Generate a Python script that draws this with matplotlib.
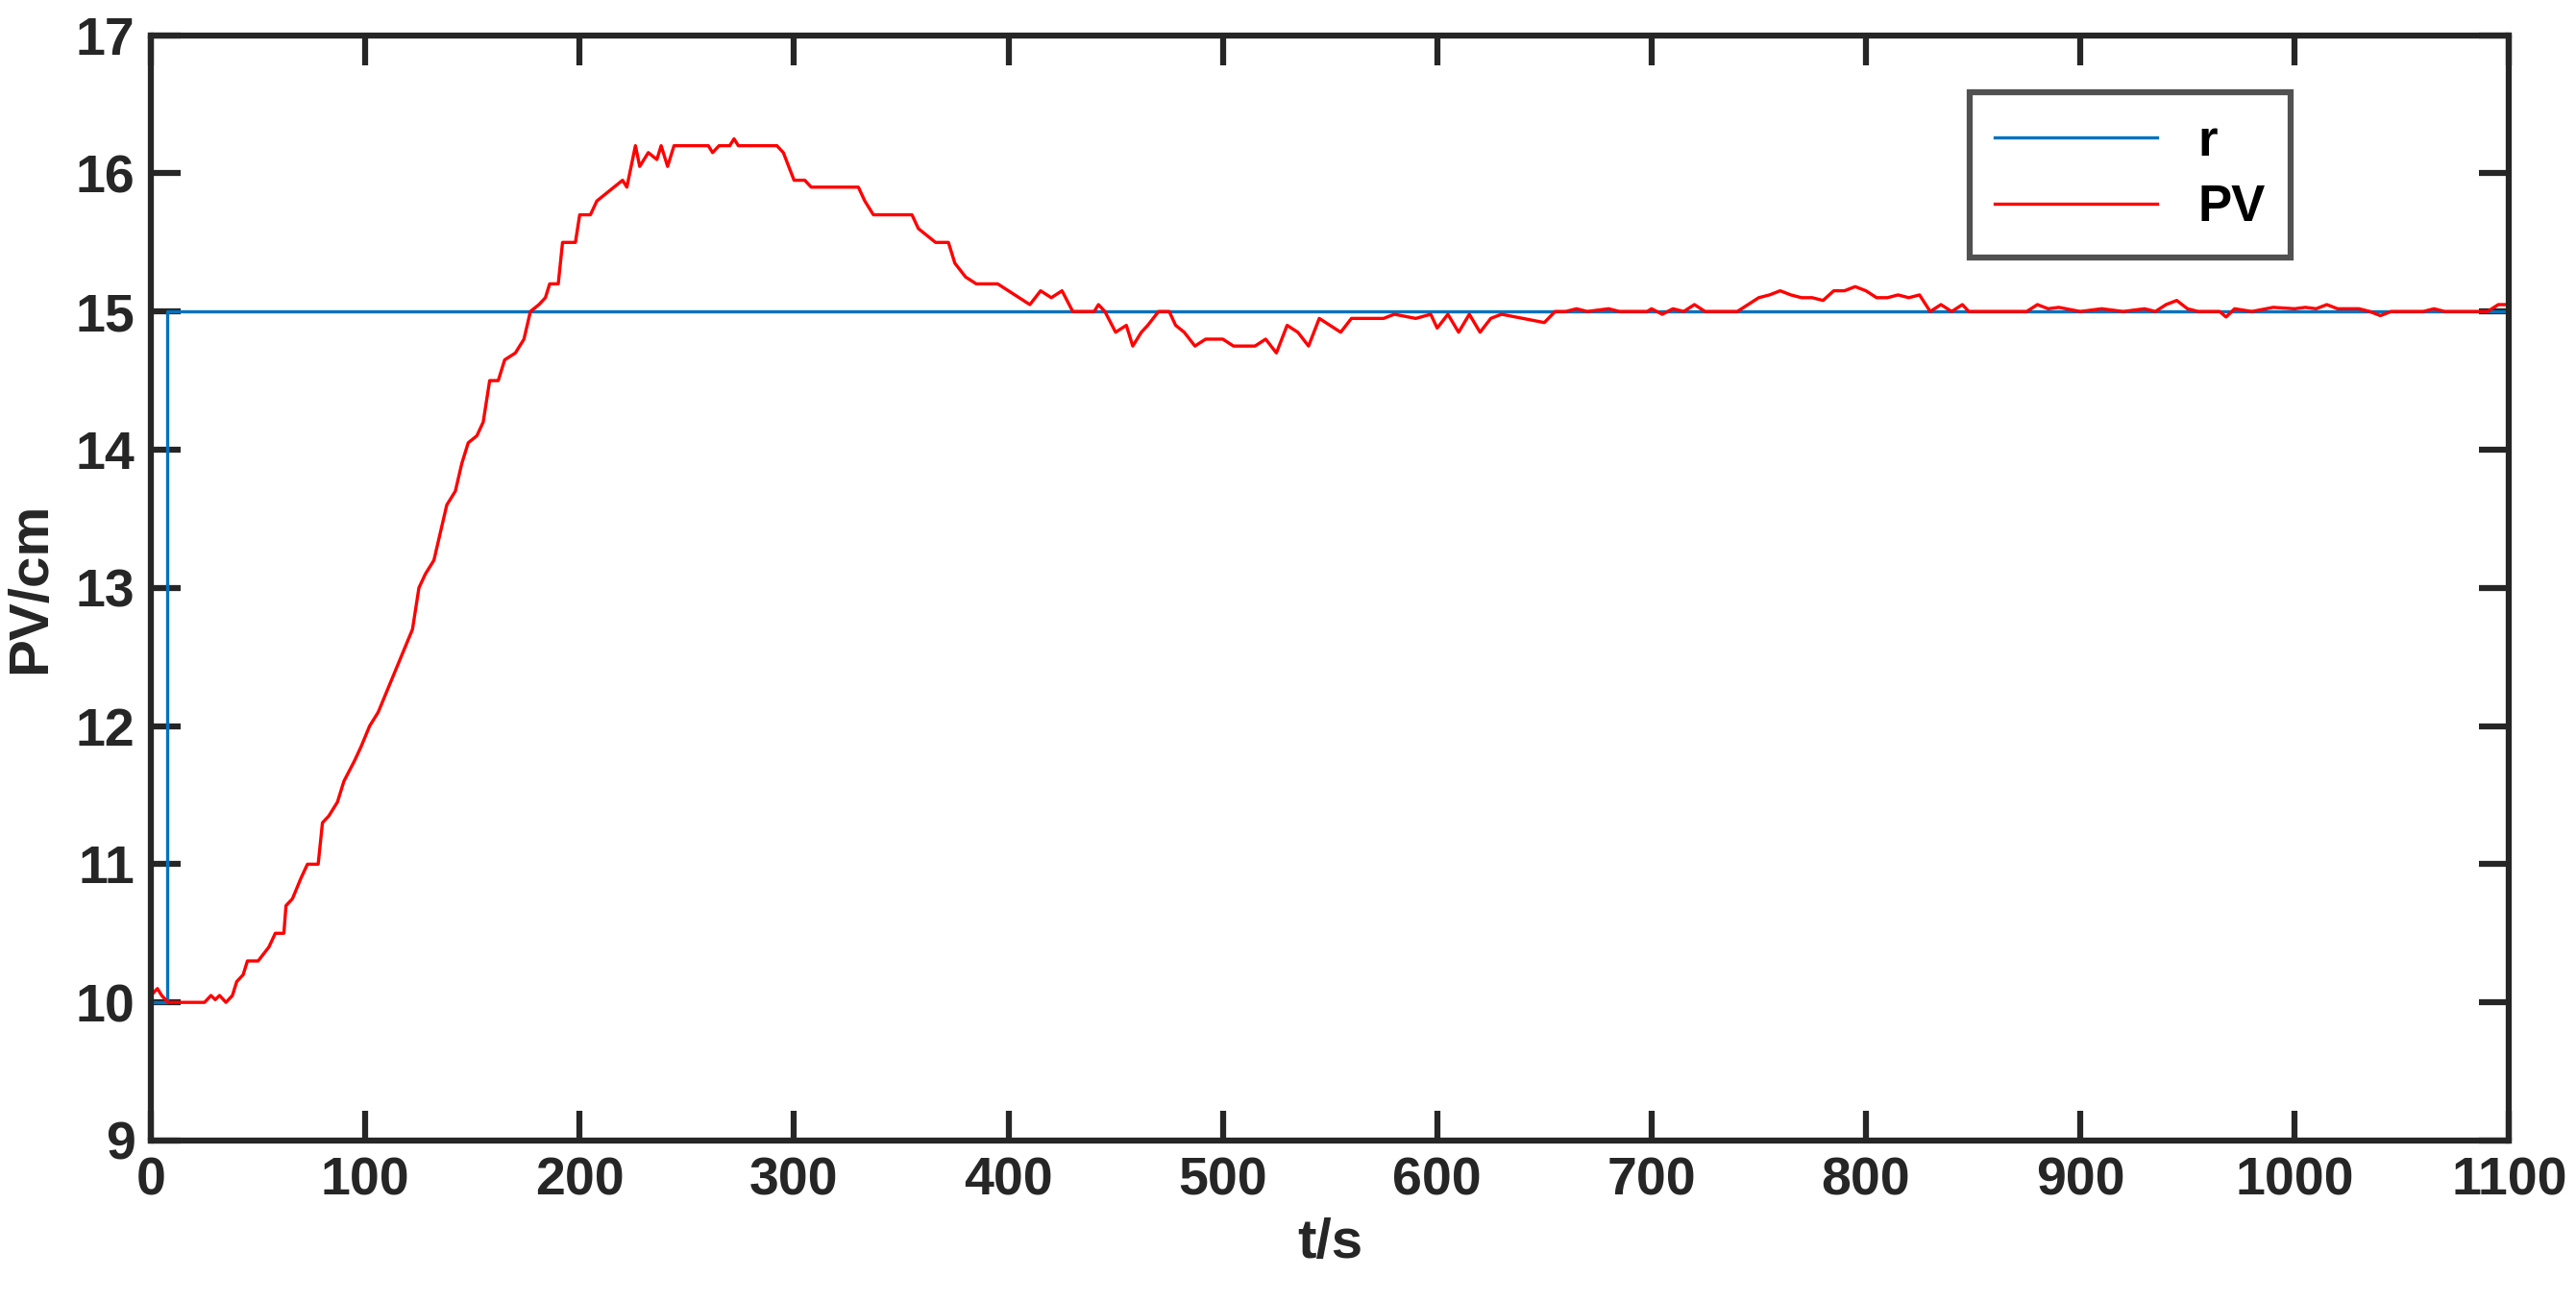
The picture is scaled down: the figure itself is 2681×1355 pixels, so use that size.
import matplotlib
matplotlib.use("Agg")
import matplotlib.pyplot as plt

r_t = [0, 7.5, 7.5, 1100]
r_v = [10, 10, 15, 15]

pv_t = [0,3,5,8,25,28,30,32,35,38,40,43,45,50,55,58,62,63,66,70,73,78,80,83,87,90,95,98,102,106,110,114,118,122,125,128,132,135,138,142,145,148,152,155,158,162,165,170,174,177,181,184,186,190,192,198,200,205,208,212,216,220,222,226,228,232,236,238,241,244,260,262,265,270,272,274,292,295,300,305,308,330,333,337,355,358,362,366,372,375,380,385,395,400,405,410,415,420,425,430,440,442,445,450,455,458,462,465,470,475,478,482,487,492,500,505,515,520,525,530,535,540,545,550,555,560,565,575,580,590,597,600,605,610,615,620,625,630,640,650,655,660,665,670,680,685,698,700,705,710,715,720,725,740,745,750,755,760,765,770,775,780,785,790,795,800,805,810,815,820,825,830,835,840,845,848,875,880,885,890,900,910,920,930,935,940,945,950,955,965,968,972,980,990,1000,1005,1010,1015,1020,1030,1035,1040,1045,1060,1065,1070,1090,1095,1100]
pv_v = [10.05,10.1,10.05,10.0,10.0,10.05,10.02,10.05,10.0,10.05,10.15,10.2,10.3,10.3,10.4,10.5,10.5,10.7,10.75,10.9,11.0,11.0,11.3,11.35,11.45,11.6,11.75,11.85,12.0,12.1,12.25,12.4,12.55,12.7,13.0,13.1,13.2,13.4,13.6,13.7,13.9,14.05,14.1,14.2,14.5,14.5,14.65,14.7,14.8,15.0,15.05,15.1,15.2,15.2,15.5,15.5,15.7,15.7,15.8,15.85,15.9,15.95,15.9,16.2,16.05,16.15,16.1,16.2,16.05,16.2,16.2,16.15,16.2,16.2,16.25,16.2,16.2,16.15,15.95,15.95,15.9,15.9,15.8,15.7,15.7,15.6,15.55,15.5,15.5,15.35,15.25,15.2,15.2,15.15,15.1,15.05,15.15,15.1,15.15,15.0,15.0,15.05,15.0,14.85,14.9,14.75,14.85,14.9,15.0,15.0,14.9,14.85,14.75,14.8,14.8,14.75,14.75,14.8,14.7,14.9,14.85,14.75,14.95,14.9,14.85,14.95,14.95,14.95,14.98,14.95,14.98,14.88,14.98,14.85,14.98,14.85,14.95,14.98,14.95,14.92,15.0,15.0,15.02,15.0,15.02,15.0,15.0,15.02,14.98,15.02,15.0,15.05,15.0,15.0,15.05,15.1,15.12,15.15,15.12,15.1,15.1,15.08,15.15,15.15,15.18,15.15,15.1,15.1,15.12,15.1,15.12,15.0,15.05,15.0,15.05,15.0,15.0,15.05,15.02,15.03,15.0,15.02,15.0,15.02,15.0,15.05,15.08,15.02,15.0,15.0,14.96,15.02,15.0,15.03,15.02,15.03,15.02,15.05,15.02,15.02,15.0,14.97,15.0,15.0,15.02,15.0,15.0,15.05,15.05]

xticks = [0,100,200,300,400,500,600,700,800,900,1000,1100]
yticks = [9,10,11,12,13,14,15,16,17]

plt.rcParams['font.family'] = ['Liberation Sans', 'DejaVu Sans']
fig = plt.figure(figsize=(26.81, 13.55), dpi=100)
ax = fig.add_axes([0.0586, 0.124, 0.9154, 0.849])
ax.plot(r_t, r_v, color='#0072BD', lw=2.4, label='r')
ax.plot(pv_t, pv_v, color='#FF0000', lw=2.4, label='PV')
ax.set_xlim(0, 1100)
ax.set_ylim(9, 17)
ax.set_xticks(xticks)
ax.set_yticks(yticks)
ax.tick_params(direction='in', length=22, width=4.5, labelsize=40, top=True, right=True, colors='#262626', pad=12)
for lab in ax.get_xticklabels() + ax.get_yticklabels():
    lab.set_fontweight('bold')
for s in ax.spines.values():
    s.set_linewidth(4.5)
    s.set_color('#262626')
ax.set_xlabel('t/s', fontsize=42, fontweight='bold', color='#262626', labelpad=8)
ax.set_ylabel('PV/cm', fontsize=42, fontweight='bold', color='#262626', labelpad=14)
leg = ax.legend(loc='upper left', bbox_to_anchor=(0.7712, 0.948), prop={'weight': 'bold', 'size': 38},
                fancybox=False, edgecolor='#262626', handlelength=3.2, borderpad=0.5, labelspacing=0.35,
                borderaxespad=0)
leg.get_frame().set_linewidth(4.5)
fig.savefig('out.png', dpi=100)
